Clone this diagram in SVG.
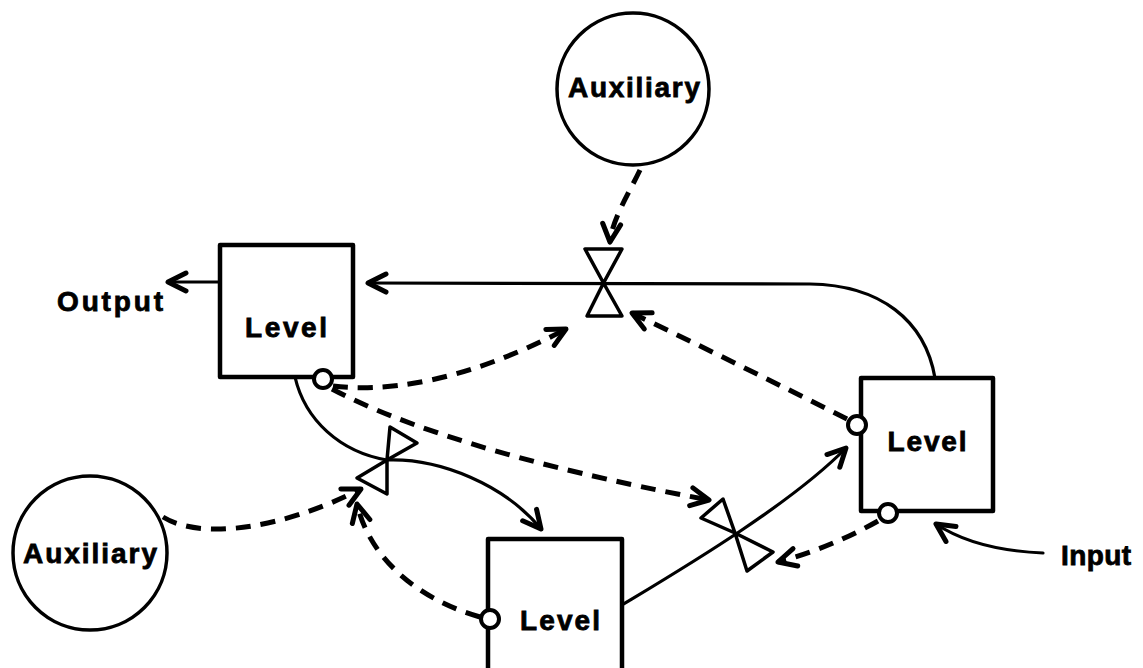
<svg xmlns="http://www.w3.org/2000/svg" width="1143" height="668" viewBox="0 0 1143 668">
<defs>
<style>
.lbl{font-family:"Liberation Sans",Arial,sans-serif;font-weight:bold;font-size:28px;fill:#000;stroke:#000;stroke-width:0.8;text-anchor:middle}
.box{fill:#fff;stroke:#000;stroke-width:4.5;stroke-linejoin:round}
.aux{fill:#fff;stroke:#000;stroke-width:3.5}
.pt{fill:#fff;stroke:#000;stroke-width:4}
.valve{fill:none;stroke:#000;stroke-width:3.5;stroke-linejoin:round}
.flow{fill:none;stroke:#000;stroke-width:3.2;stroke-linecap:round}
.info{fill:none;stroke:#000;stroke-width:5;stroke-dasharray:15 10;stroke-linecap:butt}
</style>
<marker id="ah" viewBox="0 0 24 24" refX="21" refY="12" markerWidth="24" markerHeight="24" markerUnits="userSpaceOnUse" orient="auto">
<path d="M3,3 L21,12 L3,21" fill="none" stroke="#000" stroke-width="5" stroke-dasharray="none" stroke-linecap="round" stroke-linejoin="round"/>
</marker>
</defs>
<rect width="1143" height="668" fill="#fff"/>

<g id="connectors">
<path class="flow" d="M220,282 L168,282" marker-end="url(#ah)"/>
<path class="flow" d="M935,378 C925,320 880,285 810,284 L368,283" marker-end="url(#ah)"/>
<path class="flow" d="M295,377 C305,420 340,452 387,460"/>
<path class="flow" d="M387,460 C440,458 505,485 541,529" marker-end="url(#ah)"/>
<path class="flow" d="M622,605 C680,570 790,505 846,448" marker-end="url(#ah)"/>
<path class="flow" d="M1043,553 Q975,550 936,524" marker-end="url(#ah)"/>
<path class="info" d="M640,170 C628,195 612,220 610,242" marker-end="url(#ah)"/>
<path class="info" d="M847,419 Q740,365 632,313" marker-end="url(#ah)"/>
<path class="info" d="M333,386 C380,392 460,385 566,329" marker-end="url(#ah)"/>
<path class="info" d="M332,389 C400,425 520,465 709,500" marker-end="url(#ah)"/>
<path class="info" d="M163,517 C200,540 280,530 361,489" marker-end="url(#ah)"/>
<path class="info" d="M480,617 C420,600 370,560 357,504" marker-end="url(#ah)"/>
<path class="info" d="M878,521 Q830,548 778,562" marker-end="url(#ah)"/>
</g>

<g id="aux-top">
<circle class="aux" cx="633" cy="89" r="76"/>
<text class="lbl" x="634" y="97" textLength="132" lengthAdjust="spacing">Auxiliary</text>
</g>
<g id="aux-left">
<circle class="aux" cx="90" cy="553" r="77"/>
<text class="lbl" x="90" y="563" textLength="134" lengthAdjust="spacing">Auxiliary</text>
</g>

<g id="level-top-left">
<rect class="box" x="220" y="245" width="133" height="132"/>
<text class="lbl" x="286" y="337" textLength="82" lengthAdjust="spacing">Level</text>
<circle class="pt" cx="323" cy="379" r="9"/>
</g>
<g id="level-right">
<rect class="box" x="861" y="378" width="132" height="133"/>
<text class="lbl" x="927" y="451" textLength="79" lengthAdjust="spacing">Level</text>
<circle class="pt" cx="857" cy="425" r="9"/>
<circle class="pt" cx="888" cy="513" r="9"/>
</g>
<g id="level-bottom">
<rect class="box" x="488" y="539" width="134" height="160"/>
<text class="lbl" x="560" y="630" textLength="80" lengthAdjust="spacing">Level</text>
<circle class="pt" cx="490" cy="619" r="9"/>
</g>

<g id="valve-top">
<polygon class="valve" points="585,249 622,249 603.5,283"/>
<polygon class="valve" points="603.5,283 587,316 622,316"/>
</g>
<g id="valve-left">
<polygon class="valve" points="390,427 417,443 387,460"/>
<polygon class="valve" points="387,460 357,478 387,494"/>
</g>
<g id="valve-right">
<polygon class="valve" points="701,518 723,499 735,533"/>
<polygon class="valve" points="735,533 747,571 773,552"/>
</g>

<g id="labels">
<text class="lbl" x="110" y="311" textLength="106" lengthAdjust="spacing">Output</text>
<text class="lbl" x="1096" y="565" textLength="70" lengthAdjust="spacing">Input</text>
</g>
</svg>
